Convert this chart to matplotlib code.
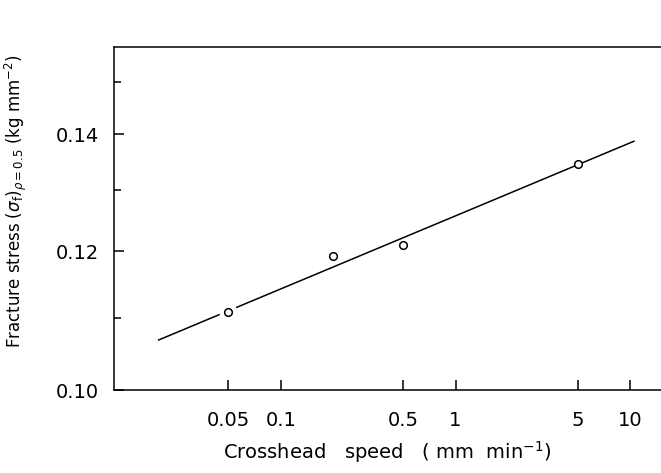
import matplotlib
matplotlib.use("Agg")
import matplotlib.pyplot as plt
from matplotlib.ticker import NullFormatter

# measured points (crosshead speed in mm/min, fracture stress in kg/mm^2)
speed = [0.05, 0.2, 0.5, 5]
stress = [0.1108, 0.1193, 0.1210, 0.1346]

# end points of the fitted straight line (log-log)
fit_speed = [0.02, 10.5]
fit_stress = [0.1068, 0.1387]

xticks = [0.05, 0.1, 0.5, 1, 5, 10]
xtick_labels = ["0.05", "0.1", "0.5", "1", "5", "10"]
yticks = [0.10, 0.12, 0.14]
ytick_labels = ["0.10", "0.12", "0.14"]
yminor = [0.11, 0.13, 0.15]

fig = plt.figure(figsize=(6.61, 4.73), dpi=100)
ax = fig.add_axes([114 / 661, 83 / 473, 547 / 661, 343 / 473])

ax.plot(fit_speed, fit_stress, color="black", lw=1.1, zorder=1)
# the line is broken around the circle it passes through
ax.plot(speed[:1], stress[:1], "o", ms=12, mfc="white", mec="white", zorder=2)
ax.plot(speed, stress, "o", ms=5.5, mfc="white", mec="black", mew=1.1, zorder=3)

ax.set_xscale("log")
ax.set_yscale("log")
ax.set_xlim(0.0111, 15)
ax.set_ylim(0.10, 0.157)

ax.set_xticks(xticks, xtick_labels)
ax.xaxis.set_minor_locator(plt.NullLocator())
ax.set_yticks(yticks, ytick_labels)
ax.set_yticks(yminor, minor=True)
ax.yaxis.set_minor_formatter(NullFormatter())

ax.tick_params(axis="x", which="major", direction="in", length=7, width=1.1, pad=15, labelsize=14)
ax.tick_params(axis="y", which="major", direction="in", length=7, width=1.1, pad=11, labelsize=14)
ax.tick_params(axis="y", which="minor", direction="in", length=5, width=1.1)

for side in ["left", "bottom", "top"]:
    ax.spines[side].set_linewidth(1.1)
ax.spines["right"].set_visible(False)

ax.set_xlabel("Crosshead   speed   ( mm  min$^{-1}$)", fontsize=14, labelpad=7)
ax.set_ylabel(r"Fracture stress $(\sigma_{\rm f})_{\rho=0.5}$ (kg mm$^{-2}$)", fontsize=12)
ax.yaxis.set_label_coords(-0.155, 0.55)

fig.savefig("out.png", dpi=100)
